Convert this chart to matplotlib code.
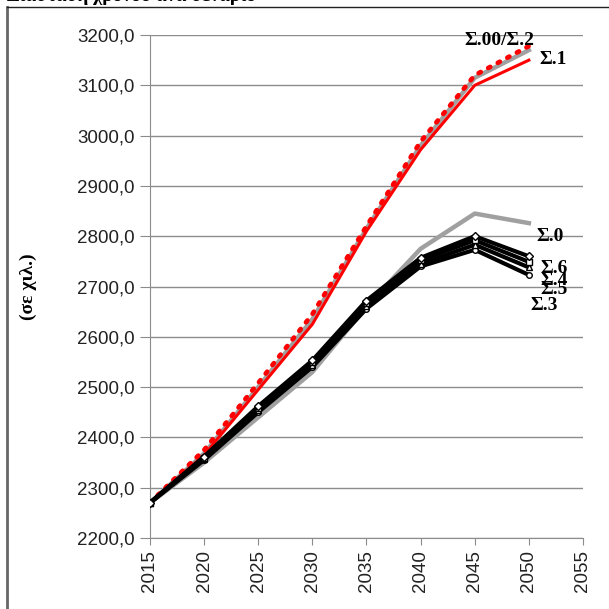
import matplotlib.pyplot as plt
from matplotlib.lines import Line2D
from matplotlib.ticker import FuncFormatter

years = [2015, 2020, 2025, 2030, 2035, 2040, 2045, 2050]

s00_s2 = [2270, 2368, 2500, 2635, 2815, 2980, 3115, 3170]
s00_dot = [2270, 2375, 2508, 2645, 2820, 2988, 3120, 3178]
s1 = [2270, 2365, 2495, 2625, 2810, 2972, 3100, 3150]
s0 = [2270, 2350, 2440, 2530, 2660, 2775, 2845, 2826]
s6 = [2270, 2362, 2462, 2553, 2672, 2757, 2800, 2760]
s4 = [2270, 2360, 2459, 2549, 2667, 2752, 2792, 2749]
s5 = [2270, 2358, 2455, 2544, 2661, 2745, 2783, 2738]
s3 = [2270, 2355, 2450, 2540, 2656, 2740, 2773, 2723]

label_font = dict(family='Liberation Serif', fontweight='bold', fontsize=14)

fig = plt.figure(figsize=(6.09, 6.09), dpi=100)
ax = fig.add_axes([0.2463, 0.1166, 0.711, 0.8259])

grey = '#a0a0a0'
ax.plot(years, s0, color=grey, lw=3.2, zorder=2)
ax.plot(years, s00_s2, color=grey, lw=3.2, zorder=2)
ax.plot(years, s1, color='#ff0000', lw=2.2, zorder=3)
ax.plot(years, s00_dot, color='#ff0000', lw=3.4, ls=(0, (0.5, 1.8)),
        dash_capstyle='round', zorder=3)

for vals, mk in [(s3, 'o'), (s5, '^'), (s4, 's'), (s6, 'D')]:
    ax.plot(years, vals, color='black', lw=3, marker=mk, ms=4,
            mfc='white', mec='black', mew=1, zorder=4)

ax.set_xlim(2015, 2055)
ax.set_ylim(2200, 3200)
ax.set_xticks(range(2015, 2056, 5))
ax.set_yticks(range(2200, 3201, 100))
ax.yaxis.set_major_formatter(FuncFormatter(lambda v, p: f'{v:.1f}'.replace('.', ',')))
ax.grid(axis='y', color='#8c8c8c', lw=1)
ax.set_axisbelow(True)
for side in ['top', 'right']:
    ax.spines[side].set_visible(False)
for side in ['left', 'bottom']:
    ax.spines[side].set_color('#8c8c8c')
ax.tick_params(axis='both', colors='#8c8c8c', labelcolor='#222222',
               labelsize=13.5)
ax.tick_params(axis='y', length=7, pad=4)
ax.tick_params(axis='x', length=5, labelrotation=90)
for t in ax.get_xticklabels() + ax.get_yticklabels():
    t.set_family('Liberation Sans')

# series labels
ax.text(2047.3, 3190, 'Σ.00/Σ.2', ha='center', va='center', **label_font)
ax.text(2051.0, 3152, 'Σ.1', ha='left', va='center', **label_font)
ax.text(2050.7, 2800, 'Σ.0', ha='left', va='center', **label_font)
ax.text(2051.1, 2735, 'Σ.6', ha='left', va='center', **label_font)
ax.text(2051.1, 2712, 'Σ.4', ha='left', va='center', **label_font)
ax.text(2051.1, 2694, 'Σ.5', ha='left', va='center', **label_font)
ax.text(2050.1, 2663, 'Σ.3', ha='left', va='center', **label_font)

fig.text(0.046, 0.53, '(σε χιλ.)', rotation=90, ha='center', va='center',
         family='Liberation Serif', fontweight='bold', fontsize=14)

# cropped caption and frame
fig.text(0.012, 1.007, 'Διάσταση χρόνου ανά σενάριο', ha='left', va='center',
         family='Liberation Serif', fontweight='bold', fontsize=14)
fig.add_artist(Line2D([0.012, 0.012], [0, 0.989], color='#666666', lw=2,
                      transform=fig.transFigure))
fig.add_artist(Line2D([0.012, 1], [0.989, 0.989], color='#222222', lw=1,
                      transform=fig.transFigure))

fig.savefig('out.png', dpi=100)
